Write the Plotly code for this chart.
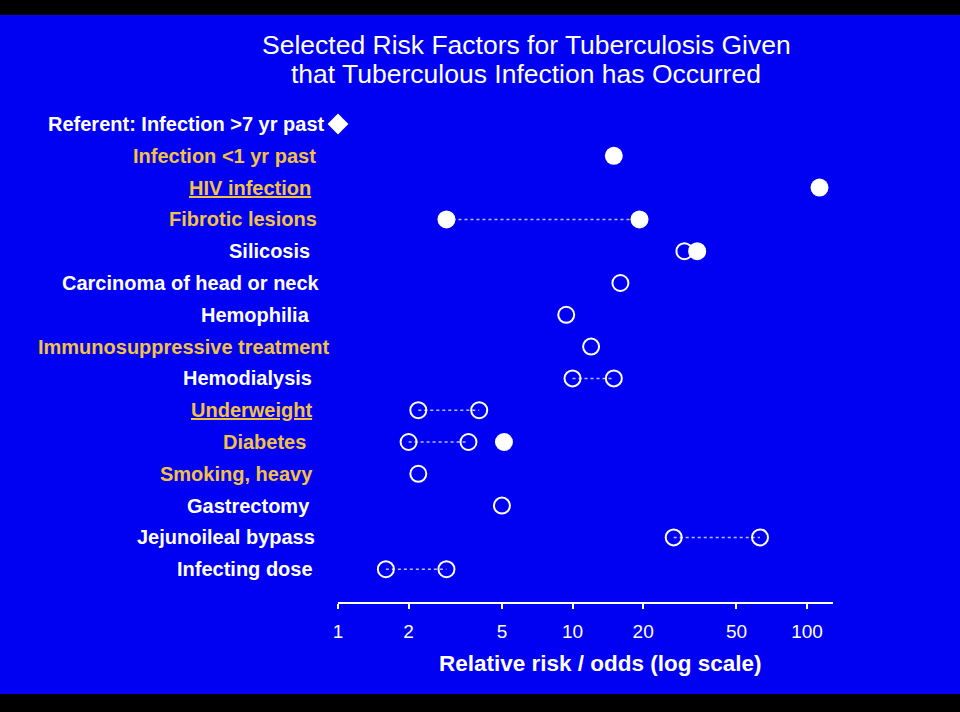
import math
import plotly.graph_objects as go

# ---------------- data ----------------
title_lines = ["Selected Risk Factors for Tuberculosis Given",
               "that Tuberculous Infection has Occurred"]
referent_label = "Referent: Infection >7 yr past"
referent_value = 1.0

factors = ["Infection <1 yr past", "HIV infection", "Fibrotic lesions", "Silicosis",
           "Carcinoma of head or neck", "Hemophilia", "Immunosuppressive treatment",
           "Hemodialysis", "Underweight", "Diabetes", "Smoking, heavy", "Gastrectomy",
           "Jejunoileal bypass", "Infecting dose"]
factor_highlight = [True, True, True, False, False, False, True,
                    False, True, True, True, False, False, False]
factor_underline = [False, True, False, False, False, False, False,
                    False, True, False, False, False, False, False]

# filled circles
solid_factor = ["Infection <1 yr past", "HIV infection", "Fibrotic lesions", "Fibrotic lesions",
                "Silicosis", "Diabetes"]
solid_value = [15, 113, 2.9, 19.3, 34, 5.1]

# open circles
open_factor = ["Silicosis", "Carcinoma of head or neck", "Hemophilia", "Immunosuppressive treatment",
               "Hemodialysis", "Hemodialysis", "Underweight", "Underweight", "Diabetes", "Diabetes",
               "Smoking, heavy", "Gastrectomy", "Jejunoileal bypass", "Jejunoileal bypass",
               "Infecting dose", "Infecting dose"]
open_value = [30, 16, 9.4, 12, 10, 15, 2.2, 4.0, 2.0, 3.6, 2.2, 5.0, 27, 63, 1.6, 2.9]

# dotted ranges
range_factor = ["Fibrotic lesions", "Hemodialysis", "Underweight", "Diabetes",
                "Jejunoileal bypass", "Infecting dose"]
range_low = [2.9, 10, 2.2, 2.0, 27, 1.6]
range_high = [19.3, 15, 4.0, 3.6, 63, 2.9]

tick_vals = [1, 2, 5, 10, 20, 50, 100]
x_title = "Relative risk / odds (log scale)"

# ---------------- styles ----------------
BLUE = "#0000F2"
YELLOW = "#F2C244"
WHITE = "#FFFFFF"
FONT = "Liberation Sans, Arial, sans-serif"
W, H = 960, 712
PL, PR = 338, 833          # plot area left/right in px
PT, PB = 100, 602          # plot area top/bottom in px
ROW0, ROWSTEP = 124, 31.8  # pixel of referent row and row spacing
# right edge (px) of each row label, as laid out on the slide
label_right_px = [316, 311, 317, 310, 320, 310, 330, 312, 312, 306, 313, 310, 315, 313]
referent_right_px = 325
title_line_px = [(526, 45), (526, 74)]
x_title_px = (600, 663)

row_of = {f: i + 1 for i, f in enumerate(factors)}
y_top = (PT - ROW0) / ROWSTEP
y_bot = (PB - ROW0) / ROWSTEP


def px_x(px):
    return (px - PL) / (PR - PL)


def px_y(py):
    return (PB - py) / (PB - PT)


fig = go.Figure()

# dotted connecting lines
lx, ly = [], []
for f, lo, hi in zip(range_factor, range_low, range_high):
    lx += [lo, hi, None]
    ly += [row_of[f], row_of[f], None]
fig.add_trace(go.Scatter(x=lx, y=ly, mode="lines",
                         line=dict(color="rgba(255,255,255,0.75)", width=1.5, dash="dot"),
                         hoverinfo="skip", showlegend=False, cliponaxis=False))

fig.add_trace(go.Scatter(x=open_value, y=[row_of[f] for f in open_factor], mode="markers",
                         marker=dict(symbol="circle-open", size=16, color=WHITE,
                                     line=dict(color=WHITE, width=2)),
                         showlegend=False, cliponaxis=False))
fig.add_trace(go.Scatter(x=solid_value, y=[row_of[f] for f in solid_factor], mode="markers",
                         marker=dict(symbol="circle", size=18, color=WHITE,
                                     line=dict(width=0)),
                         showlegend=False, cliponaxis=False))
fig.add_trace(go.Scatter(x=[referent_value], y=[0], mode="markers",
                         marker=dict(symbol="diamond", size=16, color=WHITE,
                                     line=dict(width=0)),
                         showlegend=False, cliponaxis=False))

annotations = []
common = dict(showarrow=False, borderpad=0, borderwidth=0)
annotations.append(dict(text="<b>" + referent_label + "</b>", x=px_x(referent_right_px), xref="paper",
                        y=0, yref="y", xanchor="right", yanchor="middle",
                        font=dict(family=FONT, size=20, color=WHITE), **common))
for i, f in enumerate(factors):
    t = "<b>" + f + "</b>"
    if factor_underline[i]:
        t = "<u>" + t + "</u>"
    annotations.append(dict(text=t, x=px_x(label_right_px[i]), xref="paper",
                            y=i + 1, yref="y", xanchor="right", yanchor="middle",
                            font=dict(family=FONT, size=20,
                                      color=YELLOW if factor_highlight[i] else WHITE), **common))
for line, (cx, cy) in zip(title_lines, title_line_px):
    annotations.append(dict(text=line, x=px_x(cx), xref="paper", y=px_y(cy), yref="paper",
                            xanchor="center", yanchor="middle",
                            font=dict(family=FONT, size=26.5, color=WHITE), **common))
annotations.append(dict(text="<b>" + x_title + "</b>", x=px_x(x_title_px[0]), xref="paper",
                        y=px_y(x_title_px[1]), yref="paper", xanchor="center", yanchor="middle",
                        font=dict(family=FONT, size=22.5, color=WHITE), **common))

fig.update_layout(
    width=W, height=H,
    margin=dict(l=PL, r=W - PR, t=PT, b=H - PB, pad=0),
    paper_bgcolor=BLUE, plot_bgcolor=BLUE,
    font=dict(family=FONT, color=WHITE),
    annotations=annotations,
    shapes=[
        dict(type="rect", xref="paper", yref="paper",
             x0=px_x(-5), x1=px_x(W + 5), y0=px_y(15), y1=px_y(-5),
             line=dict(width=0), fillcolor="black", layer="below"),
        dict(type="rect", xref="paper", yref="paper",
             x0=px_x(-5), x1=px_x(W + 5), y0=px_y(717), y1=px_y(694),
             line=dict(width=0), fillcolor="black", layer="below"),
    ],
    xaxis=dict(type="log", range=[0, math.log10(129)], tickvals=tick_vals,
               ticktext=[str(v) for v in tick_vals],
               showgrid=False, zeroline=False, showline=True, linecolor=WHITE, linewidth=2,
               ticks="outside", ticklen=5, tickwidth=2, tickcolor=WHITE,
               ticklabelstandoff=6,
               tickfont=dict(family=FONT, size=19, color=WHITE)),
    yaxis=dict(range=[y_bot, y_top], showgrid=False, zeroline=False, showline=False,
               showticklabels=False, ticks=""),
)

fig.write_html("out.html", config={"displayModeBar": False},
               post_script="document.body.style.margin='0';document.body.style.padding='0';"
                           "document.body.style.overflow='hidden';document.body.style.background='black';")
